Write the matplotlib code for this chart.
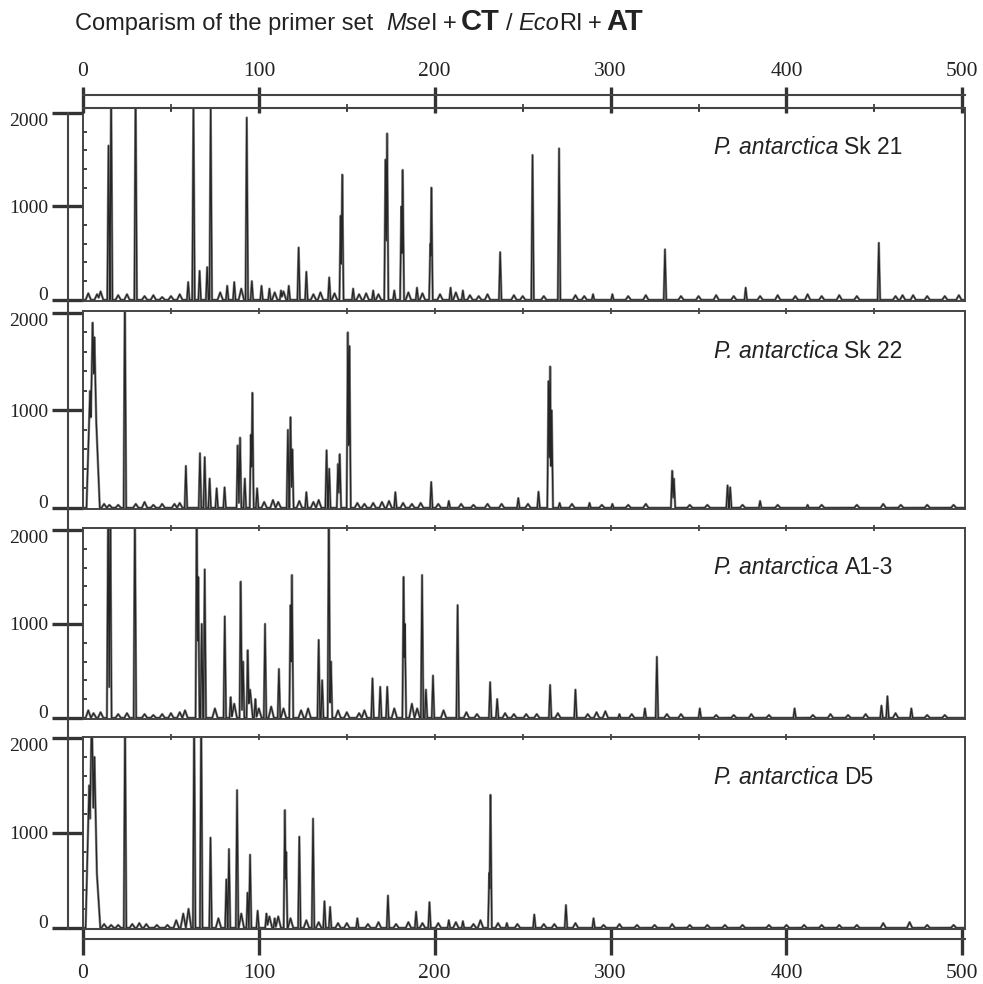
import numpy as np
import matplotlib.pyplot as plt
from matplotlib.lines import Line2D

# ---- data (fragment size in bp, peak height) ----
sk21_pos = [14.5, 16.0, 29.9, 59.8, 62.8, 66.3, 70.6, 72.6, 82, 86, 93.1, 96, 101.5,
            106, 112.6, 117, 122.6, 127, 140, 146.5, 147.4, 153.6, 165, 172, 172.9,
            177, 181, 181.8, 189.9, 197.5, 198.1, 209, 216, 237.2, 255.6, 270.7,
            290, 301, 330.9, 376.8, 452.5]
sk21_hgt = [1650, 2300, 2300, 190, 2100, 310, 350, 2050, 150, 190, 1950, 200, 150,
            120, 100, 150, 560, 300, 240, 900, 1340, 120, 100, 1500, 1780,
            100, 1000, 1390, 130, 600, 1200, 130, 100, 510, 1550, 1620,
            60, 60, 540, 130, 610]
sk21_noise_pos = [3, 8, 10, 20, 25, 35, 40, 45, 50, 55, 78, 90, 109, 114, 131, 135, 143,
                  157, 161, 168, 185, 193, 203, 212, 220, 225, 230, 245, 250, 262, 280,
                  285, 310, 320, 340, 350, 360, 370, 385, 395, 405, 412, 420, 430, 440,
                  462, 466, 472, 480, 490, 498]
sk21_noise_hgt = [70, 60, 90, 50, 60, 40, 50, 30, 40, 60, 80, 120, 80, 90, 60, 80, 70,
                  60, 70, 60, 80, 70, 60, 80, 50, 40, 60, 50, 40, 40, 50,
                  40, 40, 50, 40, 40, 50, 40, 40, 50, 40, 60, 40, 50, 40,
                  40, 50, 50, 40, 40, 50]

sk22_pos = [4.0, 5.5, 6.5, 7.5, 23.8, 58.5, 66.5, 69.2, 72, 76, 80.5, 88, 89.3, 92,
            95.5, 96.3, 99, 116.5, 118, 119, 127, 138.5, 140, 145, 146, 150.6, 151.5,
            177.6, 198, 208, 247.5, 259, 264.7, 265.6, 266.5, 271, 288, 301, 335,
            336, 366.5, 368, 385, 412]
sk22_hgt = [1200, 1900, 1750, 900, 2300, 430, 560, 520, 300, 200, 210, 640, 720, 300,
            750, 1180, 200, 800, 930, 600, 160, 590, 400, 450, 550, 1800, 1660,
            160, 265, 70, 100, 165, 1300, 1450, 1000, 50, 50, 40, 380,
            300, 230, 210, 70, 30]
sk22_noise_pos = [12, 15, 20, 30, 35, 40, 45, 52, 55, 103, 108, 111, 123, 131, 134, 156,
                  160, 165, 170, 174, 182, 187, 192, 202, 215, 222, 230, 238, 253, 278,
                  295, 310, 320, 345, 355, 375, 395, 420, 440, 455, 465, 480, 495]
sk22_noise_hgt = [40, 30, 30, 40, 60, 30, 40, 40, 50, 60, 80, 60, 70, 60, 80, 50,
                  40, 50, 60, 70, 50, 40, 50, 40, 40, 30, 40, 40, 40, 40,
                  30, 30, 40, 30, 30, 30, 30, 30, 30, 40, 30, 30, 30]

a13_pos = [14.3, 15.5, 29.5, 64.7, 65.5, 67.5, 69.2, 80.6, 84, 89.7, 91, 93.7, 98,
           103.5, 111.4, 118, 118.8, 134, 136, 139.8, 141, 164.6, 169, 173, 182.3,
           183, 192.8, 195, 199, 213, 231.5, 235.5, 265.6, 280, 305, 319.5, 326.3,
           350.7, 404.6, 454, 457.4, 471]
a13_hgt = [2300, 2300, 2300, 2300, 1500, 1000, 1580, 1080, 220, 1450, 600, 720, 200,
           1000, 520, 1200, 1520, 830, 400, 2300, 600, 420, 330, 330, 1500,
           1000, 1520, 300, 450, 1200, 380, 200, 350, 300, 40, 100, 650,
           100, 100, 130, 230, 100]
a13_noise_pos = [3, 6, 10, 20, 25, 35, 40, 45, 50, 55, 58, 75, 86, 95, 100, 107, 114,
                 124, 128, 145, 150, 157, 160, 177, 187, 190, 205, 218, 224, 240, 245,
                 252, 258, 270, 287, 292, 297, 312, 332, 340, 360, 370, 380, 390, 415,
                 425, 435, 445, 462, 480, 490]
a13_noise_hgt = [80, 50, 60, 40, 50, 40, 30, 40, 50, 60, 80, 100, 150, 300, 100, 120, 100,
                 80, 100, 80, 60, 50, 80, 100, 150, 100, 80, 60, 40, 50, 40,
                 40, 40, 50, 40, 60, 70, 40, 40, 40, 30, 30, 40, 30, 30,
                 40, 30, 40, 50, 30, 30]

d5_pos = [3.5, 5.0, 6.5, 7.8, 23.9, 63.2, 67.2, 72.5, 81.5, 83, 87.6, 93.6, 95, 99.3,
          104.3, 109, 114.8, 115.5, 123, 130.8, 137.3, 140.5, 156, 173.4, 189.4, 197,
          208, 216, 231, 231.7, 241, 256.6, 274.6, 290.3]
d5_hgt = [1500, 2300, 1800, 600, 2300, 2300, 2300, 950, 510, 830, 1450, 370, 770, 180,
          150, 100, 1240, 800, 960, 1150, 280, 220, 100, 340, 170, 270,
          80, 70, 580, 1400, 50, 140, 240, 100]
d5_noise_pos = [12, 16, 20, 28, 32, 36, 42, 48, 53, 57, 60, 77, 90, 106, 111, 118, 127,
                134, 145, 150, 162, 168, 178, 185, 193, 202, 212, 222, 226, 236, 247,
                262, 268, 280, 296, 305, 315, 325, 335, 345, 355, 365, 375, 390, 400,
                410, 420, 430, 440, 455, 470, 480, 495]
d5_noise_hgt = [40, 30, 30, 40, 50, 40, 30, 30, 80, 150, 200, 100, 150, 120, 120, 100, 80,
                60, 50, 50, 40, 60, 40, 60, 50, 50, 60, 40, 80, 50, 40,
                40, 40, 50, 30, 40, 30, 30, 40, 30, 30, 30, 30, 30, 30,
                30, 30, 30, 30, 50, 60, 30, 30]

sample_names = ["Sk 21", "Sk 22", "A1-3", "D5"]
size_ticks = [0, 100, 200, 300, 400, 500]
height_ticks = [0, 1000, 2000]

panels = [
    (sk21_pos, sk21_hgt, sk21_noise_pos, sk21_noise_hgt),
    (sk22_pos, sk22_hgt, sk22_noise_pos, sk22_noise_hgt),
    (a13_pos, a13_hgt, a13_noise_pos, a13_noise_hgt),
    (d5_pos, d5_hgt, d5_noise_pos, d5_noise_hgt),
]

# ---- layout (pixels) ----
W, H = 983, 984
LEFT, RIGHT = 83, 965
XMAX = 501.5
panel_px = [(108, 301, 2053), (311, 509, 2020), (528, 719, 2021), (737, 929, 2010)]
INK = "#333333"
SERIF = "Liberation Serif"
SANS = "Liberation Sans"


def fx(px):
    return px / W


def fy(py):
    return 1 - py / H


def trace(pos, hgt, npos, nhgt):
    x = np.arange(0, XMAX, 0.05)
    y = np.zeros_like(x)
    for p, h in zip(pos, hgt):
        w = 2.0 if p < 10 else 0.7
        y = np.maximum(y, np.interp(x, [p - w, p, p + w], [0, h, 0]))
    for p, h in zip(npos, nhgt):
        y = np.maximum(y, np.interp(x, [p - 1.5, p, p + 1.5], [0, h, 0]))
    return x, y


fig = plt.figure(figsize=(W / 100, H / 100), dpi=100)
renderer = fig.canvas.get_renderer()


def rich_text(x_px, y_px, pieces, va="baseline"):
    """Place text pieces one after another on a line (pixel coords)."""
    x = x_px
    for s, size, style, weight, gap in pieces:
        t = fig.text(fx(x), fy(y_px), s, fontsize=size, fontstyle=style,
                     fontweight=weight, family=SANS, color="#222222", va=va)
        bb = t.get_window_extent(renderer)
        x += bb.width + gap


for i, ((pos, hgt, npos, nhgt), (top, bot, ytop)) in enumerate(zip(panels, panel_px)):
    ax = fig.add_axes([fx(LEFT), fy(bot), (RIGHT - LEFT) / W, (bot - top) / H])
    x, y = trace(pos, hgt, npos, nhgt)
    ax.plot(x, y, color="#8e8e8e", lw=1.8)
    ax.plot(x, y, color="#262626", lw=0.9)
    ax.set_xlim(0, XMAX)
    ax.set_ylim(-12, ytop)
    for sp in ax.spines.values():
        sp.set_linewidth(1.4)
        sp.set_color("#444444")
    ax.set_yticks(height_ticks)
    ax.set_yticklabels([str(v) for v in height_ticks], family=SERIF, fontsize=14)
    labels = ax.get_yticklabels()
    labels[0].set_va("baseline")
    labels[-1].set_va("top")
    ax.set_yticks(np.arange(200, 2000, 200), minor=True)
    ax.tick_params(axis="y", which="major", direction="out", length=22, width=2.4,
                   pad=3, color=INK, labelcolor="#222222")
    ax.tick_params(axis="y", which="minor", direction="in", length=3, width=1.3, color=INK)
    ax.xaxis.tick_top()
    ax.set_xticks(np.arange(50, 500, 50))
    ax.tick_params(axis="x", which="major", direction="inout", length=5, width=1.2,
                   labeltop=False, labelbottom=False, color=INK)

    rich_text(714, top + 40, [("P. antarctica", 16.5, "italic", "normal", 6),
                              (sample_names[i], 16.5, "normal", "normal", 0)], va="center")

# outer vertical axis line
fig.add_artist(Line2D([fx(68), fx(68)], [fy(113), fy(929)], lw=1.5, color="#444444"))

# top ruler
rax = fig.add_axes([fx(LEFT), fy(108), (RIGHT - LEFT) / W, 13 / H])
rax.set_xlim(0, XMAX)
rax.set_ylim(0, 1)
rax.set_yticks([])
for side in ["left", "right"]:
    rax.spines[side].set_visible(False)
for side in ["top", "bottom"]:
    rax.spines[side].set_linewidth(1.5)
    rax.spines[side].set_color("#444444")
rax.vlines(size_ticks, -5 / 13, 1 + 8 / 13, color=INK, lw=2.4, clip_on=False)
rax.xaxis.tick_top()
rax.set_xticks(size_ticks)
rax.set_xticklabels([str(v) for v in size_ticks], family=SERIF, fontsize=15.5)
rax.set_xticks(np.arange(50, 500, 100), minor=True)
rax.tick_params(axis="x", which="major", length=0, pad=10, labelcolor="#222222")
rax.tick_params(axis="x", which="minor", top=False, bottom=True, direction="inout",
                length=6, width=1.2, color=INK)

# bottom ruler
bax = fig.add_axes([fx(LEFT), fy(939), (RIGHT - LEFT) / W, 10 / H])
bax.set_xlim(0, XMAX)
bax.set_ylim(0, 1)
bax.set_yticks([])
for side in ["left", "right"]:
    bax.spines[side].set_visible(False)
for side in ["top", "bottom"]:
    bax.spines[side].set_linewidth(1.5)
    bax.spines[side].set_color("#444444")
bax.vlines(size_ticks, -16 / 10, 1, color=INK, lw=2.4, clip_on=False)
bax.set_xticks(size_ticks)
bax.set_xticklabels([str(v) for v in size_ticks], family=SERIF, fontsize=15.5)
bax.tick_params(axis="x", which="major", length=0, pad=18, labelcolor="#222222")

# title
rich_text(75, 30, [
    ("Comparism of the primer set", 17, "normal", "normal", 13),
    ("Mse", 17, "italic", "normal", 0),
    ("I", 17, "normal", "normal", 5),
    ("+", 17, "normal", "normal", 5),
    ("CT", 21, "normal", "bold", 6),
    ("/", 17, "normal", "normal", 6),
    ("Eco", 17, "italic", "normal", 0),
    ("RI", 17, "normal", "normal", 5),
    ("+", 17, "normal", "normal", 5),
    ("AT", 21, "normal", "bold", 0),
])

fig.savefig("out.png", dpi=100)
